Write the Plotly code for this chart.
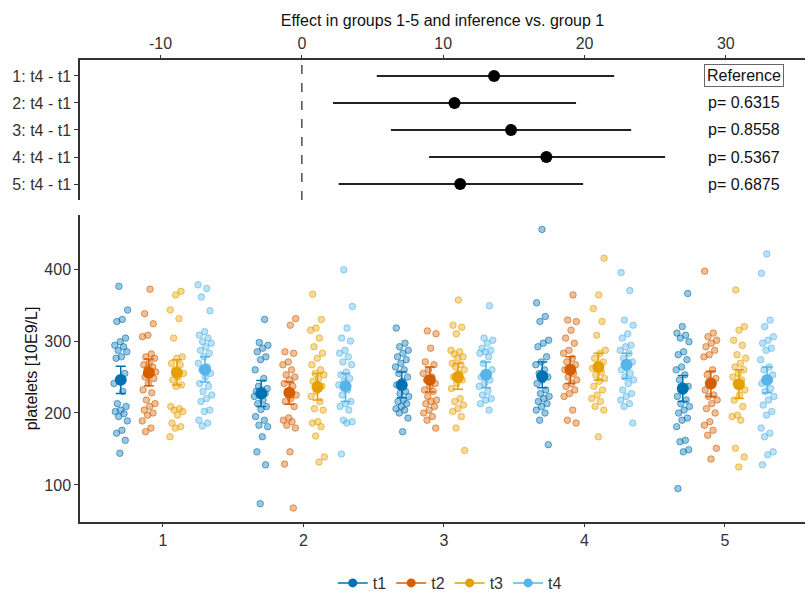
import plotly.graph_objects as go

# ---------------- data ----------------
groups = [1, 2, 3, 4, 5]
times = ["t1", "t2", "t3", "t4"]
colors = {"t1": "#0072B2", "t2": "#D55E00", "t3": "#E69F00", "t4": "#56B4E9"}
rgb = {"t1": (0, 114, 178), "t2": (213, 94, 0), "t3": (230, 159, 0), "t4": (86, 180, 233)}

G1_t1 = [376, 343, 330, 327, 304, 299, 294, 292, 287, 285, 278, 276, 255, 248, 241, 230, 213, 209, 204, 202, 199, 195, 189, 176, 172, 162, 144]
G1_t2 = [372, 338, 324, 308, 306, 282, 278, 276, 269, 267, 264, 261, 257, 255, 250, 248, 241, 232, 228, 218, 213, 209, 204, 200, 197, 189, 179, 174]
G1_t3 = [369, 364, 343, 331, 304, 278, 276, 269, 267, 260, 255, 250, 246, 239, 237, 209, 206, 204, 202, 197, 186, 181, 179, 167]
G1_t4 = [378, 373, 361, 342, 313, 308, 304, 299, 297, 292, 287, 283, 278, 269, 264, 260, 255, 250, 241, 237, 230, 225, 220, 216, 204, 202, 190, 186, 182]
G2_t1 = [330, 298, 294, 290, 285, 278, 274, 260, 248, 237, 234, 232, 230, 227, 225, 223, 218, 213, 209, 205, 195, 190, 183, 181, 167, 146, 128, 74]
G2_t2 = [331, 322, 285, 283, 271, 267, 260, 253, 250, 246, 241, 237, 230, 225, 220, 216, 209, 193, 190, 188, 183, 179, 146, 129, 68]
G2_t3 = [365, 330, 318, 315, 304, 292, 283, 276, 267, 260, 255, 253, 248, 244, 237, 230, 223, 216, 206, 204, 188, 186, 181, 168, 139, 132]
G2_t4 = [399, 348, 318, 304, 300, 287, 283, 278, 271, 267, 257, 253, 248, 244, 239, 232, 225, 216, 213, 209, 204, 190, 188, 186, 143]
G3_t1 = [318, 297, 292, 287, 283, 278, 274, 269, 264, 260, 255, 250, 244, 239, 230, 227, 223, 218, 216, 213, 209, 206, 204, 200, 193, 174]
G3_t2 = [314, 310, 290, 271, 267, 260, 255, 250, 246, 241, 237, 232, 230, 223, 218, 216, 213, 209, 204, 200, 195, 190, 179]
G3_t3 = [357, 322, 319, 310, 287, 285, 282, 278, 276, 269, 267, 264, 260, 255, 250, 246, 241, 234, 220, 216, 211, 206, 202, 195, 179, 148]
G3_t4 = [349, 304, 301, 297, 290, 287, 285, 283, 278, 269, 260, 255, 250, 246, 241, 237, 230, 225, 220, 218, 213, 204]
G4_t1 = [455, 353, 334, 327, 301, 297, 292, 278, 271, 267, 260, 255, 250, 246, 241, 232, 227, 223, 220, 216, 213, 209, 204, 200, 190, 156]
G4_t2 = [364, 329, 327, 315, 304, 297, 287, 283, 276, 271, 267, 262, 260, 255, 250, 246, 241, 237, 232, 227, 223, 204, 190, 186]
G4_t3 = [415, 364, 345, 327, 308, 287, 283, 276, 271, 267, 262, 257, 253, 248, 244, 237, 232, 225, 220, 216, 209, 204, 167]
G4_t4 = [395, 370, 329, 322, 310, 304, 294, 292, 287, 283, 276, 271, 267, 260, 255, 250, 246, 241, 232, 227, 223, 218, 213, 209, 186]
G5_t1 = [366, 320, 311, 308, 304, 299, 285, 281, 274, 264, 260, 253, 246, 237, 230, 223, 218, 213, 209, 204, 200, 193, 190, 181, 162, 160, 149, 146, 95]
G5_t2 = [397, 311, 306, 301, 297, 292, 287, 281, 278, 260, 253, 248, 241, 232, 225, 223, 218, 213, 206, 200, 188, 183, 176, 169, 151, 136]
G5_t3 = [371, 320, 315, 301, 294, 281, 276, 269, 264, 260, 255, 250, 246, 241, 232, 225, 218, 209, 197, 195, 190, 151, 139, 125]
G5_t4 = [421, 394, 329, 320, 306, 301, 297, 290, 287, 274, 264, 260, 253, 248, 241, 234, 230, 223, 218, 211, 202, 197, 179, 172, 167, 146, 142, 128]

raw = {
    (1, "t1"): G1_t1, (1, "t2"): G1_t2, (1, "t3"): G1_t3, (1, "t4"): G1_t4,
    (2, "t1"): G2_t1, (2, "t2"): G2_t2, (2, "t3"): G2_t3, (2, "t4"): G2_t4,
    (3, "t1"): G3_t1, (3, "t2"): G3_t2, (3, "t3"): G3_t3, (3, "t4"): G3_t4,
    (4, "t1"): G4_t1, (4, "t2"): G4_t2, (4, "t3"): G4_t3, (4, "t4"): G4_t4,
    (5, "t1"): G5_t1, (5, "t2"): G5_t2, (5, "t3"): G5_t3, (5, "t4"): G5_t4,
}

mean_t1 = [246, 227, 239, 251, 234]
mean_t2 = [256, 228, 246, 260, 241]
mean_t3 = [256, 236, 250, 264, 240]
mean_t4 = [260, 237, 253, 267, 246]
lo_t1 = [227, 209, 221, 235, 216]
hi_t1 = [265, 245, 257, 271, 252]
lo_t2 = [238, 212, 229, 241, 223]
hi_t2 = [275, 243, 264, 278, 258]
lo_t3 = [239, 218, 233, 246, 220]
hi_t3 = [274, 255, 269, 283, 260]
lo_t4 = [243, 216, 235, 248, 228]
hi_t4 = [278, 255, 271, 283, 264]
means = {"t1": mean_t1, "t2": mean_t2, "t3": mean_t3, "t4": mean_t4}
los = {"t1": lo_t1, "t2": lo_t2, "t3": lo_t3, "t4": lo_t4}
his = {"t1": hi_t1, "t2": hi_t2, "t3": hi_t3, "t4": hi_t4}

# forest plot
effect_labels = ["1: t4 - t1", "2: t4 - t1", "3: t4 - t1", "4: t4 - t1", "5: t4 - t1"]
effect_est = [13.6, 10.8, 14.8, 17.3, 11.2]
effect_lo = [5.3, 2.2, 6.3, 9.0, 2.6]
effect_hi = [22.1, 19.4, 23.3, 25.7, 19.9]
p_labels = ["Reference", "p= 0.6315", "p= 0.8558", "p= 0.5367", "p= 0.6875"]
effect_ticks = [-10, 0, 10, 20, 30]
effect_ticktext = ["-10", "0", "10", "20", "30"]

# ---------------- figure ----------------
FONT = "Liberation Sans, Arial, sans-serif"
FS = 16
TXT = "#333333"
AX = "#333333"
dodge = {"t1": -0.3, "t2": -0.1, "t3": 0.1, "t4": 0.3}
jit_w = 0.05

fig = go.Figure()

# raw points
for t in times:
    r, g, b = rgb[t]
    xs, ys = [], []
    for gi in groups:
        vals = raw[(gi, t)]
        for k, v in enumerate(vals):
            frac = ((k * 0.6180339887 + gi * 0.37 + times.index(t) * 0.21) % 1.0) - 0.5
            xs.append(gi + dodge[t] + frac * 2 * jit_w)
            ys.append(v)
    fig.add_trace(go.Scatter(
        x=xs, y=ys, mode="markers", xaxis="x2", yaxis="y2", showlegend=False,
        hoverinfo="skip",
        marker=dict(size=6.5, color=f"rgba({r},{g},{b},0.40)",
                    line=dict(color=f"rgba({r},{g},{b},0.60)", width=1)),
    ))

# means + CI
for t in times:
    xs = [gi + dodge[t] for gi in groups]
    m = means[t]
    fig.add_trace(go.Scatter(
        x=xs, y=m, mode="markers", xaxis="x2", yaxis="y2", showlegend=False,
        marker=dict(size=12, color=colors[t]),
        error_y=dict(type="data", symmetric=False,
                     array=[h - v for h, v in zip(his[t], m)],
                     arrayminus=[v - l for l, v in zip(los[t], m)],
                     color=colors[t], thickness=1.5, width=5),
    ))

# legend entries
for t in times:
    fig.add_trace(go.Scatter(
        x=[None], y=[None], mode="lines+markers", name=t, xaxis="x2", yaxis="y2",
        line=dict(color=colors[t], width=1.5), marker=dict(size=9, color=colors[t]),
    ))

# forest plot
rows = [1, 2, 3, 4, 5]
fig.add_trace(go.Scatter(
    x=effect_est, y=rows, mode="markers", xaxis="x", yaxis="y", showlegend=False,
    marker=dict(size=12, color="black"),
    error_x=dict(type="data", symmetric=False,
                 array=[h - e for h, e in zip(effect_hi, effect_est)],
                 arrayminus=[e - l for l, e in zip(effect_lo, effect_est)],
                 color="#222222", thickness=2, width=0),
))

annotations = []
for row, lab in zip(rows, p_labels):
    if lab == "Reference":
        annotations.append(dict(x=31.3, y=row, xref="x", yref="y", text=lab, showarrow=False,
                                font=dict(family=FONT, size=FS, color="#111"),
                                bordercolor="#666666", borderwidth=1, borderpad=2, bgcolor="white"))
    else:
        annotations.append(dict(x=31.3, y=row, xref="x", yref="y", text=lab, showarrow=False,
                                font=dict(family=FONT, size=FS, color="#111")))

fig.update_layout(
    width=805, height=592,
    margin=dict(l=80, r=0, t=60, b=70, autoexpand=False),
    paper_bgcolor="white", plot_bgcolor="white",
    font=dict(family=FONT, size=FS, color=TXT),
    annotations=annotations,
    shapes=[dict(type="line", xref="x", yref="y domain", x0=0, x1=0, y0=0, y1=1,
                 line=dict(color="#222222", width=1.2, dash="dash"))],
    xaxis=dict(domain=[0, 1], anchor="y", side="top", range=[-15.7, 35.6], automargin=False,
               tickvals=effect_ticks, ticktext=effect_ticktext, ticks="outside", ticklen=3, tickcolor=AX,
               showline=True, linecolor=AX, linewidth=1.5, showgrid=False, zeroline=False,
               tickfont=dict(size=FS, color=TXT),
               title=dict(text="Effect in groups 1-5 and inference vs. group 1",
                          font=dict(size=FS, color="#111"), standoff=4)),
    yaxis=dict(domain=[0.697, 1.0], anchor="x", range=[5.59, 0.41], automargin=False,
               tickvals=rows, ticktext=effect_labels, ticks="outside", ticklen=4, tickcolor=AX,
               showline=True, linecolor=AX, linewidth=1.5, showgrid=False, zeroline=False,
               tickfont=dict(size=FS, color=TXT)),
    xaxis2=dict(domain=[0, 1], anchor="y2", range=[0.41, 5.57], automargin=False,
                tickvals=groups, ticks="outside", ticklen=3, tickcolor=AX,
                showline=True, linecolor=AX, linewidth=1.5, showgrid=False, zeroline=False,
                tickfont=dict(size=FS, color=TXT)),
    yaxis2=dict(domain=[0, 0.6645], anchor="x2", range=[48.6, 475], automargin=False,
                tickvals=[100, 200, 300, 400], ticks="outside", ticklen=4, tickcolor=AX,
                showline=True, linecolor=AX, linewidth=1.5, showgrid=False, zeroline=False,
                tickfont=dict(size=FS, color=TXT),
                title=dict(text="platelets [10E9/L]", font=dict(size=FS, color="#111"), standoff=3)),
    legend=dict(orientation="h", x=0.51, xanchor="center", y=-0.132, yanchor="middle",
                font=dict(size=FS, color=TXT), itemwidth=30),
)

fig.write_html("out.html", config={"displayModeBar": False},
               post_script="document.body.style.margin='0';document.body.style.overflow='hidden';")
